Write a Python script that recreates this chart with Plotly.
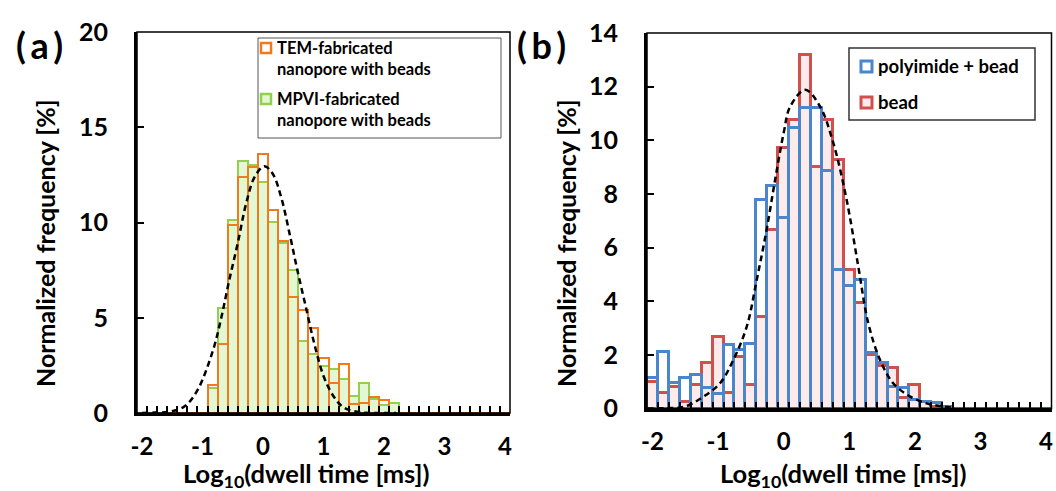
import plotly.graph_objects as go

W, H = 1056, 491

# ---------------- data ----------------
categories = [round(-2 + k / 6, 4) for k in range(37)]

tem_beads = [0] * 7 + [1.45, 3.6, 9.85, 12.4, 12.9, 13.6, 10.65, 9.05, 6.1, 5.4, 4.45, 2.9,
                       1.55, 2.55, 0.45, 0.55, 0.85, 0.7, 0] + [0] * 11
mpvi_beads = [0] * 7 + [1.3, 5.5, 10.15, 13.25, 13.0, 12.15, 10.05, 8.9, 7.5, 3.8, 3.1, 2.45,
                        2.3, 1.8, 0.9, 1.55, 0.75, 0.4, 0.55] + [0] * 11

bead = [1.0, 0.57, 0.81, 0.25, 0.88, 1.69, 2.68, 0.57, 1.93, 0.88, 3.43, 6.66, 9.71, 10.76,
        13.19, 9.02, 10.76, 9.27, 5.17, 3.93, 2.0, 1.6, 1.5, 0.38, 0.88, 0.25, 0.05] + [0] * 10
polyimide_bead = [1.13, 2.12, 0.94, 1.13, 1.25, 0.75, 0.55, 2.37, 2.18, 2.41, 7.78, 8.28, 7.1,
                  10.45, 11.2, 11.2, 8.84, 5.17, 4.55, 4.8, 2.06, 1.71, 0.81, 0.75, 0.32, 0.25,
                  0.19, 0.05] + [0] * 9

fit_a_x = [-2.0, -1.8, -1.58, -1.31, -1.09, -0.83, -0.69, -0.56, -0.42, -0.28, -0.14, 0.02,
           0.16, 0.30, 0.44, 0.57, 0.71, 0.85, 1.01, 1.18, 1.34, 1.61, 1.9, 2.2]
fit_a_y = [0, 0.02, 0.05, 0.32, 1.16, 3.26, 5.0, 6.95, 8.88, 10.98, 12.38, 12.95, 12.56, 11.33,
           9.4, 7.47, 5.54, 3.61, 1.86, 0.81, 0.28, 0.03, 0, 0]

fit_b_x = [-2.08, -1.8, -1.504, -1.225, -0.97, -0.767, -0.563, -0.41, -0.26, -0.13, 0.0, 0.10,
           0.33, 0.554, 0.757, 0.96, 1.138, 1.29, 1.47, 1.67, 1.93, 2.18, 2.38, 2.6]
fit_b_y = [0, 0.01, 0.07, 0.44, 0.94, 1.81, 3.05, 4.8, 6.66, 8.53, 10.27, 11.26, 11.88, 11.26,
           9.9, 7.78, 5.29, 3.18, 1.81, 0.94, 0.44, 0.19, 0.09, 0.02]

x_ticks = [-2, -1, 0, 1, 2, 3, 4]
y_ticks_a = [0, 5, 10, 15, 20]
y_ticks_b = [0, 2, 4, 6, 8, 10, 12, 14]

# ---------------- styling ----------------
FONT = "Lato"
ORANGE = "#F07A1C"
GREEN_LINE = "#92D050"
GREEN_FILL = "#E2F7D2"
BLUE = "#4A86CB"
RED = "#D0504E"
PINK = "#FDEBEB"
BW = 1 / 6
edges = [round(-2 + BW / 2 + k * BW, 5) for k in range(36)]


def px(x):
    return x / W


def py(y):
    return (H - y) / H


fig = go.Figure()

# panel (a)
fig.add_trace(go.Bar(x=categories, y=mpvi_beads, width=BW, xaxis="x", yaxis="y",
                     marker=dict(color=GREEN_FILL, line=dict(color=GREEN_LINE, width=2)),
                     name="MPVI-fabricated nanopore with beads", showlegend=False))
fig.add_trace(go.Bar(x=categories, y=tem_beads, width=BW, xaxis="x", yaxis="y",
                     marker=dict(color="rgba(0,0,0,0)", line=dict(color=ORANGE, width=2)),
                     name="TEM-fabricated nanopore with beads", showlegend=False))
fig.add_trace(go.Scatter(x=fit_a_x, y=fit_a_y, mode="lines", xaxis="x", yaxis="y",
                         line=dict(color="black", width=2.5, dash="6px,4px", shape="spline"),
                         showlegend=False))

# panel (b)
fig.add_trace(go.Bar(x=categories, y=bead, width=BW, xaxis="x2", yaxis="y2",
                     marker=dict(color=PINK, line=dict(color=RED, width=3)),
                     name="bead", showlegend=False))
fig.add_trace(go.Bar(x=categories, y=polyimide_bead, width=BW, xaxis="x2", yaxis="y2",
                     marker=dict(color="rgba(0,0,0,0)", line=dict(color=BLUE, width=3)),
                     name="polyimide + bead", showlegend=False))
fig.add_trace(go.Scatter(x=fit_b_x, y=fit_b_y, mode="lines", xaxis="x2", yaxis="y2",
                         line=dict(color="black", width=2.5, dash="6px,4px", shape="spline"),
                         showlegend=False))

xtickfont = dict(family=FONT, size=24, color="black", weight="bold")
ytickfont = dict(family=FONT, size=25, color="black", weight="bold")

xcommon = dict(range=[-2 - BW / 2, 4 + BW / 2], tickmode="array", tickvals=x_ticks,
               ticktext=[str(v) for v in x_ticks], ticks="", showgrid=False, zeroline=False,
               showline=True, linecolor="black", linewidth=3, tickfont=xtickfont,
               ticklabelstandoff=10, automargin=False,
               minor=dict(tickmode="array", tickvals=edges, ticks="inside", ticklen=7,
                          tickwidth=2, tickcolor="black", showgrid=False))
ycommon = dict(tickmode="array", ticks="inside", ticklen=7, tickwidth=2, tickcolor="black",
               showgrid=False, zeroline=False, showline=True, linecolor="black", linewidth=3,
               tickfont=ytickfont, ticklabelstandoff=21, automargin=False)

fig.update_layout(
    width=W, height=H, margin=dict(l=0, r=0, t=0, b=0),
    paper_bgcolor="white", plot_bgcolor="white",
    barmode="overlay", bargap=0,
    xaxis=dict(domain=[px(137), px(510)], anchor="y", **xcommon),
    yaxis=dict(domain=[py(413), py(32)], anchor="x", range=[0, 20], tickvals=y_ticks_a,
               **ycommon),
    xaxis2=dict(domain=[px(647), px(1051.5)], anchor="y2", **xcommon),
    yaxis2=dict(domain=[py(408.5), py(33)], anchor="x2", range=[0, 14], tickvals=y_ticks_b,
                **ycommon),
)

shapes = []
# thin frames
for xr, yr in (("x domain", "y domain"), ("x2 domain", "y2 domain")):
    shapes.append(dict(type="rect", xref=xr, yref=yr, x0=0, x1=1, y0=0, y1=1,
                       line=dict(color="black", width=1.5), fillcolor="rgba(0,0,0,0)",
                       layer="above"))

# legend (a)
shapes.append(dict(type="rect", xref="paper", yref="paper", x0=px(258), x1=px(501),
                   y0=py(138), y1=py(38), line=dict(color="#555555", width=1),
                   fillcolor="white"))
shapes.append(dict(type="rect", xref="paper", yref="paper", x0=px(261), x1=px(271),
                   y0=py(53), y1=py(43), line=dict(color=ORANGE, width=2.5),
                   fillcolor="white"))
shapes.append(dict(type="rect", xref="paper", yref="paper", x0=px(261), x1=px(271),
                   y0=py(104), y1=py(94), line=dict(color=GREEN_LINE, width=2.5),
                   fillcolor=GREEN_FILL))
# legend (b)
shapes.append(dict(type="rect", xref="paper", yref="paper", x0=px(849), x1=px(1035),
                   y0=py(120), y1=py(48), line=dict(color="#333333", width=1.5),
                   fillcolor="white"))
shapes.append(dict(type="rect", xref="paper", yref="paper", x0=px(861), x1=px(872),
                   y0=py(72), y1=py(61), line=dict(color=BLUE, width=3), fillcolor="white"))
shapes.append(dict(type="rect", xref="paper", yref="paper", x0=px(861), x1=px(872),
                   y0=py(108), y1=py(97), line=dict(color=RED, width=3), fillcolor=PINK))
fig.update_layout(shapes=shapes)

ann = []


def text(x, y, s, size, xanchor="center", angle=0):
    ann.append(dict(x=px(x), y=py(y), xref="paper", yref="paper", text=s, showarrow=False,
                    xanchor=xanchor, yanchor="middle", textangle=angle, borderpad=0,
                    font=dict(family=FONT, size=size, color="black", weight="bold")))


text(39, 45, "(\u2009a\u2009)", 36)
text(541, 45, "(\u2009b\u2009)", 36)
text(45, 243, "Normalized frequency [%]", 25, angle=-90)
text(566, 243, "Normalized frequency [%]", 25, angle=-90)
text(306, 475, "Log<sub>10</sub>(dwell time [ms])", 25.5)
text(843, 475, "Log<sub>10</sub>(dwell time [ms])", 25.5)

text(276, 48, "TEM-fabricated", 16.5, xanchor="left")
text(276, 69, "nanopore with beads", 16.5, xanchor="left")
text(276, 99, "MPVI-fabricated", 16.5, xanchor="left")
text(276, 120, "nanopore with beads", 16.5, xanchor="left")
text(877, 66, "polyimide + bead", 18.5, xanchor="left")
text(877, 102, "bead", 18.5, xanchor="left")
fig.update_layout(annotations=ann)

fig.write_html("out.html", config={"displayModeBar": False},
               post_script="document.body.style.margin='0px';")
